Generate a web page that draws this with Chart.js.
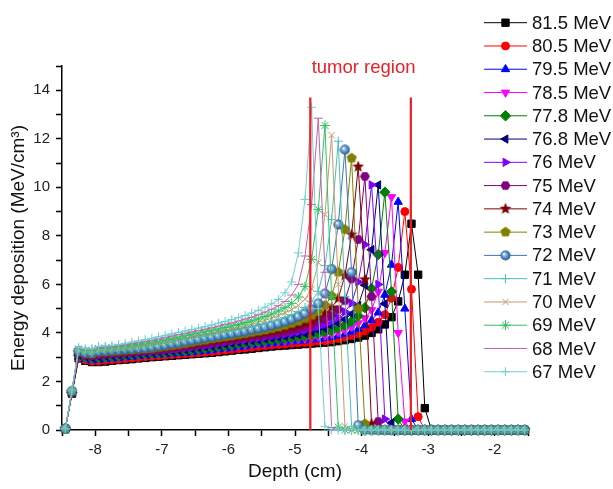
<!DOCTYPE html>
<html>
<head>
<meta charset="utf-8">
<script src="https://cdn.jsdelivr.net/npm/chart.js@4.4.1/dist/chart.umd.min.js"></script>
<style>
  html, body { margin: 0; padding: 0; background: #fff; }
</style>
</head>
<body>
<canvas id="chart" width="613" height="489"></canvas>
<script>
// depth bins (cm)
const depth = [
  -8.45, -8.35, -8.25, -8.15, -8.05, -7.95, -7.85, -7.75, -7.65, -7.55,
  -7.45, -7.35, -7.25, -7.15, -7.05, -6.95, -6.85, -6.75, -6.65, -6.55,
  -6.45, -6.35, -6.25, -6.15, -6.05, -5.95, -5.85, -5.75, -5.65, -5.55,
  -5.45, -5.35, -5.25, -5.15, -5.05, -4.95, -4.85, -4.75, -4.65, -4.55,
  -4.45, -4.35, -4.25, -4.15, -4.05, -3.95, -3.85, -3.75, -3.65, -3.55,
  -3.45, -3.35, -3.25, -3.15, -3.05, -2.95, -2.85, -2.75, -2.65, -2.55,
  -2.45, -2.35, -2.25, -2.15, -2.05, -1.95, -1.85, -1.75, -1.65, -1.55,
]

// energy deposition (MeV/cm3), one array per beam energy
const mev815 = [
  0.05, 1.5, 2.95, 2.85, 2.8, 2.8, 2.82, 2.85, 2.88, 2.9,
  2.92, 2.95, 2.97, 3.0, 3.02, 3.04, 3.06, 3.08, 3.1, 3.12,
  3.14, 3.16, 3.18, 3.21, 3.24, 3.27, 3.3, 3.32, 3.35, 3.38,
  3.41, 3.44, 3.46, 3.48, 3.5, 3.52, 3.54, 3.56, 3.58, 3.6,
  3.62, 3.66, 3.7, 3.75, 3.81, 3.89, 4.0, 4.15, 4.35, 4.65,
  5.3, 6.4, 8.5, 6.4, 0.9, 0, 0, 0, 0, 0,
  0, 0, 0, 0, 0, 0, 0, 0, 0, 0,
]
const mev805 = [
  0.05, 1.51, 2.98, 2.88, 2.84, 2.84, 2.87, 2.9, 2.92, 2.94,
  2.97, 2.99, 3.02, 3.04, 3.06, 3.08, 3.1, 3.12, 3.14, 3.16,
  3.18, 3.2, 3.23, 3.26, 3.29, 3.32, 3.35, 3.38, 3.41, 3.44,
  3.47, 3.5, 3.52, 3.54, 3.57, 3.59, 3.61, 3.63, 3.66, 3.68,
  3.72, 3.77, 3.82, 3.89, 3.97, 4.08, 4.23, 4.44, 4.75, 5.43,
  6.7, 9.0, 5.8, 0.55, 0, 0, 0, 0, 0, 0,
  0, 0, 0, 0, 0, 0, 0, 0, 0, 0,
]
const mev795 = [
  0.05, 1.52, 3.01, 2.92, 2.87, 2.89, 2.92, 2.94, 2.96, 2.99,
  3.01, 3.04, 3.06, 3.08, 3.1, 3.12, 3.14, 3.16, 3.18, 3.2,
  3.22, 3.25, 3.28, 3.32, 3.35, 3.37, 3.41, 3.44, 3.48, 3.51,
  3.53, 3.56, 3.59, 3.61, 3.64, 3.66, 3.69, 3.72, 3.74, 3.79,
  3.84, 3.89, 3.96, 4.05, 4.16, 4.31, 4.52, 4.84, 5.57, 6.81,
  9.4, 5.0, 0.45, 0, 0, 0, 0, 0, 0, 0,
  0, 0, 0, 0, 0, 0, 0, 0, 0, 0,
]
const mev785 = [
  0.05, 1.53, 3.04, 2.95, 2.91, 2.94, 2.96, 2.98, 3.01, 3.03,
  3.06, 3.08, 3.1, 3.12, 3.14, 3.16, 3.18, 3.2, 3.22, 3.24,
  3.27, 3.31, 3.34, 3.37, 3.4, 3.44, 3.47, 3.51, 3.54, 3.57,
  3.6, 3.63, 3.66, 3.68, 3.71, 3.74, 3.77, 3.81, 3.85, 3.9,
  3.96, 4.03, 4.12, 4.24, 4.4, 4.61, 4.94, 5.7, 7.3, 9.6,
  4.0, 0.35, 0, 0, 0, 0, 0, 0, 0, 0,
  0, 0, 0, 0, 0, 0, 0, 0, 0, 0,
]
const mev778 = [
  0.05, 1.54, 3.07, 2.98, 2.95, 2.98, 3.0, 3.03, 3.05, 3.08,
  3.1, 3.12, 3.14, 3.16, 3.18, 3.2, 3.22, 3.24, 3.26, 3.29,
  3.33, 3.36, 3.4, 3.43, 3.46, 3.5, 3.54, 3.58, 3.61, 3.64,
  3.67, 3.7, 3.73, 3.77, 3.8, 3.83, 3.87, 3.92, 3.97, 4.04,
  4.11, 4.2, 4.32, 4.48, 4.7, 5.04, 5.83, 7.23, 9.8, 5.7,
  0.45, 0, 0, 0, 0, 0, 0, 0, 0, 0,
  0, 0, 0, 0, 0, 0, 0, 0, 0, 0,
]
const mev768 = [
  0.05, 1.55, 3.1, 3.02, 2.98, 3.02, 3.05, 3.07, 3.1, 3.12,
  3.14, 3.16, 3.18, 3.2, 3.22, 3.24, 3.26, 3.28, 3.31, 3.35,
  3.39, 3.42, 3.45, 3.49, 3.53, 3.57, 3.61, 3.65, 3.68, 3.71,
  3.75, 3.78, 3.82, 3.85, 3.89, 3.93, 3.98, 4.04, 4.11, 4.18,
  4.28, 4.4, 4.56, 4.78, 5.13, 5.97, 7.43, 10.1, 5.2, 0.3,
  0, 0, 0, 0, 0, 0, 0, 0, 0, 0,
  0, 0, 0, 0, 0, 0, 0, 0, 0, 0,
]
const mev760 = [
  0.05, 1.56, 3.13, 3.05, 3.02, 3.07, 3.09, 3.12, 3.14, 3.16,
  3.18, 3.2, 3.22, 3.24, 3.26, 3.28, 3.3, 3.33, 3.37, 3.41,
  3.45, 3.48, 3.52, 3.56, 3.61, 3.65, 3.68, 3.72, 3.76, 3.79,
  3.83, 3.87, 3.91, 3.95, 3.99, 4.05, 4.11, 4.18, 4.26, 4.36,
  4.48, 4.64, 4.87, 5.23, 6.1, 7.64, 10.1, 6.0, 0.45, 0,
  0, 0, 0, 0, 0, 0, 0, 0, 0, 0,
  0, 0, 0, 0, 0, 0, 0, 0, 0, 0,
]
const mev750 = [
  0.05, 1.57, 3.16, 3.08, 3.06, 3.11, 3.14, 3.16, 3.18, 3.2,
  3.22, 3.24, 3.26, 3.28, 3.3, 3.32, 3.35, 3.39, 3.43, 3.47,
  3.51, 3.55, 3.59, 3.64, 3.68, 3.72, 3.76, 3.8, 3.84, 3.88,
  3.92, 3.96, 4.01, 4.05, 4.11, 4.18, 4.25, 4.33, 4.44, 4.56,
  4.72, 4.96, 5.33, 6.23, 7.85, 10.45, 5.5, 0.35, 0, 0,
  0, 0, 0, 0, 0, 0, 0, 0, 0, 0,
  0, 0, 0, 0, 0, 0, 0, 0, 0, 0,
]
const mev740 = [
  0.05, 1.58, 3.19, 3.12, 3.09, 3.16, 3.18, 3.2, 3.22, 3.24,
  3.26, 3.28, 3.3, 3.32, 3.34, 3.38, 3.42, 3.46, 3.5, 3.53,
  3.58, 3.63, 3.67, 3.72, 3.76, 3.8, 3.84, 3.88, 3.92, 3.97,
  4.02, 4.06, 4.12, 4.18, 4.24, 4.32, 4.41, 4.51, 4.64, 4.81,
  5.04, 5.42, 6.37, 8.05, 10.85, 6.2, 0.25, 0, 0, 0,
  0, 0, 0, 0, 0, 0, 0, 0, 0, 0,
  0, 0, 0, 0, 0, 0, 0, 0, 0, 0,
]
const mev730 = [
  0.05, 1.59, 3.22, 3.15, 3.13, 3.2, 3.22, 3.24, 3.26, 3.28,
  3.3, 3.32, 3.34, 3.36, 3.4, 3.44, 3.48, 3.52, 3.56, 3.61,
  3.66, 3.7, 3.75, 3.8, 3.84, 3.88, 3.93, 3.97, 4.02, 4.07,
  4.12, 4.18, 4.24, 4.31, 4.39, 4.48, 4.59, 4.72, 4.89, 5.13,
  5.52, 6.5, 8.26, 11.2, 5.0, 0.25, 0, 0, 0, 0,
  0, 0, 0, 0, 0, 0, 0, 0, 0, 0,
  0, 0, 0, 0, 0, 0, 0, 0, 0, 0,
]
const mev720 = [
  0.05, 1.6, 3.25, 3.18, 3.17, 3.24, 3.26, 3.28, 3.3, 3.32,
  3.34, 3.36, 3.38, 3.42, 3.46, 3.5, 3.55, 3.59, 3.64, 3.69,
  3.74, 3.79, 3.83, 3.88, 3.93, 3.97, 4.02, 4.07, 4.13, 4.18,
  4.24, 4.31, 4.38, 4.46, 4.56, 4.67, 4.8, 4.97, 5.22, 5.62,
  6.63, 8.47, 11.55, 6.5, 0.2, 0, 0, 0, 0, 0,
  0, 0, 0, 0, 0, 0, 0, 0, 0, 0,
  0, 0, 0, 0, 0, 0, 0, 0, 0, 0,
]
const mev710 = [
  0.05, 1.61, 3.28, 3.22, 3.2, 3.28, 3.3, 3.32, 3.34, 3.36,
  3.38, 3.4, 3.44, 3.48, 3.53, 3.57, 3.61, 3.67, 3.72, 3.77,
  3.82, 3.87, 3.92, 3.97, 4.02, 4.07, 4.12, 4.18, 4.24, 4.3,
  4.37, 4.45, 4.53, 4.63, 4.75, 4.88, 5.05, 5.3, 5.71, 6.77,
  8.67, 11.9, 5.5, 0.15, 0, 0, 0, 0, 0, 0,
  0, 0, 0, 0, 0, 0, 0, 0, 0, 0,
  0, 0, 0, 0, 0, 0, 0, 0, 0, 0,
]
const mev700 = [
  0.05, 1.62, 3.31, 3.25, 3.24, 3.32, 3.34, 3.36, 3.38, 3.4,
  3.42, 3.46, 3.5, 3.55, 3.6, 3.64, 3.69, 3.75, 3.8, 3.86,
  3.91, 3.96, 4.01, 4.06, 4.12, 4.18, 4.24, 4.3, 4.36, 4.44,
  4.52, 4.61, 4.71, 4.83, 4.96, 5.13, 5.39, 5.81, 6.9, 8.88,
  12.15, 6.0, 0.15, 0, 0, 0, 0, 0, 0, 0,
  0, 0, 0, 0, 0, 0, 0, 0, 0, 0,
  0, 0, 0, 0, 0, 0, 0, 0, 0, 0,
]
const mev690 = [
  0.05, 1.63, 3.34, 3.28, 3.28, 3.36, 3.38, 3.4, 3.42, 3.44,
  3.48, 3.53, 3.57, 3.62, 3.67, 3.72, 3.78, 3.83, 3.89, 3.95,
  4.0, 4.05, 4.11, 4.16, 4.23, 4.29, 4.35, 4.43, 4.5, 4.58,
  4.68, 4.78, 4.9, 5.04, 5.22, 5.48, 5.91, 7.03, 9.09, 12.55,
  5.5, 0.12, 0, 0, 0, 0, 0, 0, 0, 0,
  0, 0, 0, 0, 0, 0, 0, 0, 0, 0,
  0, 0, 0, 0, 0, 0, 0, 0, 0, 0,
]
const mev680 = [
  0.05, 1.64, 3.37, 3.32, 3.31, 3.4, 3.42, 3.44, 3.46, 3.5,
  3.55, 3.6, 3.65, 3.69, 3.75, 3.81, 3.87, 3.93, 3.98, 4.04,
  4.1, 4.15, 4.21, 4.28, 4.35, 4.41, 4.49, 4.57, 4.65, 4.75,
  4.86, 4.98, 5.12, 5.3, 5.56, 6.0, 7.17, 9.29, 12.85, 6.5,
  0.1, 0, 0, 0, 0, 0, 0, 0, 0, 0,
  0, 0, 0, 0, 0, 0, 0, 0, 0, 0,
  0, 0, 0, 0, 0, 0, 0, 0, 0, 0,
]
const mev670 = [
  0.05, 1.65, 3.4, 3.35, 3.35, 3.44, 3.46, 3.48, 3.52, 3.57,
  3.62, 3.67, 3.72, 3.78, 3.84, 3.9, 3.96, 4.02, 4.08, 4.14,
  4.2, 4.26, 4.33, 4.4, 4.47, 4.55, 4.63, 4.72, 4.82, 4.93,
  5.06, 5.2, 5.38, 5.65, 6.1, 7.3, 9.5, 13.3, 5.0, 0.15,
  0, 0, 0, 0, 0, 0, 0, 0, 0, 0,
  0, 0, 0, 0, 0, 0, 0, 0, 0, 0,
  0, 0, 0, 0, 0, 0, 0, 0, 0, 0,
]

const energyLabels = [
  "81.5 MeV", "80.5 MeV", "79.5 MeV", "78.5 MeV", "77.8 MeV", "76.8 MeV",
  "76 MeV", "75 MeV", "74 MeV", "73 MeV", "72 MeV", "71 MeV",
  "70 MeV", "69 MeV", "68 MeV", "67 MeV",
]
const series = [
  mev815, mev805, mev795, mev785, mev778, mev768, mev760, mev750,
  mev740, mev730, mev720, mev710, mev700, mev690, mev680, mev670,
]

// tumor region boundaries (cm) and their drawn height
const tumorEdges = [-4.77, -3.26]
const tumorTop = 13.7

const FONT = "'Liberation Sans', Arial, sans-serif"

// little canvases for marker shapes Chart.js does not have
function makeMarker(size, draw) {
  const c = document.createElement("canvas")
  c.width = size
  c.height = size
  draw(c.getContext("2d"), size / 2)
  return c
}
function regular(g, c, r, n, start, color) {
  g.beginPath()
  for (let j = 0; j < n; j++) {
    const a = start + j * 2 * Math.PI / n
    g.lineTo(c + r * Math.cos(a), c + r * Math.sin(a))
  }
  g.closePath()
  g.fillStyle = color
  g.fill()
}
const hexMarker = makeMarker(11, (g, c) => regular(g, c, 5, 6, 0, "#800080"))
const pentMarker = makeMarker(12, (g, c) => regular(g, c, 5.4, 5, -Math.PI / 2, "#808000"))
const starMarker = makeMarker(14, (g, c) => {
  g.beginPath()
  for (let j = 0; j < 10; j++) {
    const r = j % 2 ? 2.7 : 6.2
    const a = -Math.PI / 2 + j * Math.PI / 5
    g.lineTo(c + r * Math.cos(a), c + r * Math.sin(a))
  }
  g.closePath()
  g.fillStyle = "#800000"
  g.fill()
})
const ballMarker = makeMarker(11, (g, c) => {
  const grad = g.createRadialGradient(c - 1.6, c - 1.6, 0.3, c, c, 5.2)
  grad.addColorStop(0, "#ffffff")
  grad.addColorStop(0.3, "#8ab6df")
  grad.addColorStop(0.75, "#3d76b0")
  grad.addColorStop(1, "#24507e")
  g.fillStyle = grad
  g.beginPath()
  g.arc(c, c, 5, 0, Math.PI * 2)
  g.fill()
})

const looks = [
  { color: "#000000", style: "rect", radius: 5.2 },
  { color: "#ff0000", style: "circle", radius: 4 },
  { color: "#0000ff", style: "triangle", radius: 4.8 },
  { color: "#ff00ff", style: "triangle", radius: 4.8, rotation: 180 },
  { color: "#008000", style: "rectRot", radius: 5.2 },
  { color: "#000080", style: "triangle", radius: 4.8, rotation: 270 },
  { color: "#8000ff", style: "triangle", radius: 4.8, rotation: 90 },
  { color: "#800080", style: hexMarker, radius: 5 },
  { color: "#800000", style: starMarker, radius: 5 },
  { color: "#808000", style: pentMarker, radius: 5 },
  { color: "#3d76b0", style: ballMarker, radius: 5 },
  { color: "#4dbdbd", style: "cross", radius: 4.5 },
  { color: "#c49a6c", style: "crossRot", radius: 4.5 },
  { color: "#30c060", style: "star", radius: 5 },
  { color: "#c060b0", style: "line", radius: 4.5 },
  { color: "#70d0d0", style: "cross", radius: 4.5 },
]

const datasets = series.map((vals, i) => ({
  label: energyLabels[i],
  data: depth.map((x, k) => ({ x: x, y: vals[k] })),
  borderColor: looks[i].color,
  backgroundColor: looks[i].color,
  pointBackgroundColor: looks[i].color,
  pointBorderColor: looks[i].color,
  pointStyle: looks[i].style,
  pointRadius: looks[i].radius,
  pointRotation: looks[i].rotation || 0,
  pointBorderWidth: 1,
  borderWidth: 1,
  tension: 0,
  clip: false,
  order: series.length - i,
}))

tumorEdges.forEach(x => {
  datasets.push({
    label: "",
    data: [{ x: x, y: 0 }, { x: x, y: tumorTop }],
    borderColor: "#ee1c24",
    borderWidth: 2.2,
    pointRadius: 0,
    order: 0,
  })
})

const overlay = {
  id: "overlay",
  afterDraw(chart) {
    const ctx = chart.ctx
    const xs = chart.scales.x
    ctx.save()

    const mid = (xs.getPixelForValue(tumorEdges[0]) + xs.getPixelForValue(tumorEdges[1])) / 2
    ctx.font = "18.5px " + FONT
    ctx.fillStyle = "#ee1c24"
    ctx.textAlign = "center"
    ctx.textBaseline = "alphabetic"
    ctx.fillText("tumor region", mid + 3, 73)

    chart.data.datasets.forEach((ds, i) => {
      if (!ds.label) return
      const y = 22.7 + i * 23.27
      ctx.strokeStyle = ds.borderColor
      ctx.lineWidth = 1
      ctx.beginPath()
      ctx.moveTo(484, y)
      ctx.lineTo(527, y)
      ctx.stroke()

      ctx.fillStyle = ds.pointBackgroundColor
      ctx.strokeStyle = ds.pointBorderColor
      if (Chart.helpers && Chart.helpers.drawPoint) {
        Chart.helpers.drawPoint(ctx, {
          pointStyle: ds.pointStyle,
          radius: ds.pointRadius,
          rotation: ds.pointRotation,
          borderWidth: 1,
        }, 505.5, y)
      }

      ctx.fillStyle = "#111"
      ctx.textAlign = "left"
      ctx.textBaseline = "middle"
      ctx.font = "18.5px " + FONT
      ctx.fillText(ds.label, 532, y + 1)
    })
    ctx.restore()
  },
}

new Chart(document.getElementById("chart"), {
  type: "line",
  data: { datasets: datasets },
  plugins: [overlay],
  options: {
    responsive: false,
    animation: false,
    devicePixelRatio: 1,
    layout: { padding: { left: 0, right: 85, top: 66, bottom: 0 } },
    plugins: {
      legend: { display: false },
      tooltip: { enabled: false },
    },
    scales: {
      x: {
        type: "linear",
        min: -8.5,
        max: -1.5,
        ticks: {
          stepSize: 0.5,
          autoSkip: false,
          maxRotation: 0,
          padding: 5,
          color: "#222",
          font: { family: FONT, size: 15 },
          callback: v => Math.abs(v - Math.round(v)) < 1e-6 ? String(Math.round(v)) : "",
        },
        grid: { drawOnChartArea: false, drawTicks: true, tickLength: 6, tickColor: "#000", tickWidth: 1.5 },
        border: { display: true, color: "#000", width: 1.5 },
        title: {
          display: true,
          text: "Depth (cm)",
          color: "#111",
          font: { family: FONT, size: 19 },
          padding: { top: 0, bottom: 6 },
        },
        afterFit: s => { s.height = 59 },
      },
      y: {
        type: "linear",
        min: 0,
        max: 15,
        ticks: {
          stepSize: 1,
          autoSkip: false,
          padding: 6,
          color: "#222",
          font: { family: FONT, size: 15 },
          callback: v => (v % 2 === 0 && v <= 14) ? String(v) : "",
        },
        grid: { drawOnChartArea: false, drawTicks: true, tickLength: 6, tickColor: "#000", tickWidth: 1.5 },
        border: { display: true, color: "#000", width: 1.5 },
        title: {
          display: true,
          text: "Energy deposition (MeV/cm³)",
          color: "#111",
          font: { family: FONT, size: 19 },
          padding: { top: 7, bottom: 0 },
        },
        afterFit: s => { s.width = 62 },
      },
    },
  },
})
</script>
</body>
</html>
